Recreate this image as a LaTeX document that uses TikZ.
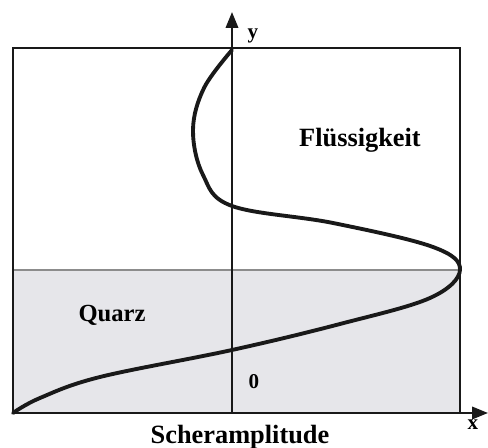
\documentclass[tikz,border=0pt]{standalone}
\usepackage{fontspec}
\setmainfont{Liberation Serif}
\usetikzlibrary{arrows.meta}
\definecolor{QuarzGray}{RGB}{230, 230, 234}
\definecolor{LineGray}{RGB}{140, 140, 140}
\definecolor{AxisBlack}{RGB}{25, 25, 25}

\begin{document}
\begin{tikzpicture}[x=0.02cm, y=-0.02cm, font=\bfseries\fontsize{15}{17}\selectfont]
    \useasboundingbox (0,0) rectangle (488,448);

    % Quarz region and liquid box
    \fill[QuarzGray] (13,270) rectangle (460,413);
    \draw[LineGray, thick] (13,270) -- (460,270);
    \draw[AxisBlack, line width=1.2pt] (13,413) -- (13,48) -- (460,48) -- (460,413);

    % Axes
    \draw[AxisBlack, line width=1.3pt, -{Triangle[length=9pt, width=7pt]}] (13,413) -- (488,413);
    \draw[AxisBlack, line width=1.3pt, -{Triangle[length=9pt, width=7pt]}] (232,413) -- (232,12);

    % Shear amplitude
    \draw[AxisBlack, line width=2.2pt, line cap=round] plot[smooth, tension=0.6] coordinates {
      (13,413) (40,398) (100,377) (232,350) (340,324) (430,298) (460,270)
      (433,247) (333,223) (232,206) (203,175) (193,130) (204,88) (232,50)};

    % Labels
    \node (fluid) at (360,140) {Flüssigkeit};
    \node[font=\bfseries\fontsize{14}{16}\selectfont] (quarz) at (112,315) {Quarz};
    \node[font=\bfseries\fontsize{12}{14}\selectfont] (zero) at (254,382) {0};
    \node (ampl) at (240,437) {Scheramplitude};
    \node[font=\bfseries\fontsize{12}{14}\selectfont] (ylab) at (253,36) {y};
    \node[font=\bfseries\fontsize{12}{14}\selectfont] (xlab) at (473,425) {x};
\end{tikzpicture}
\end{document}
